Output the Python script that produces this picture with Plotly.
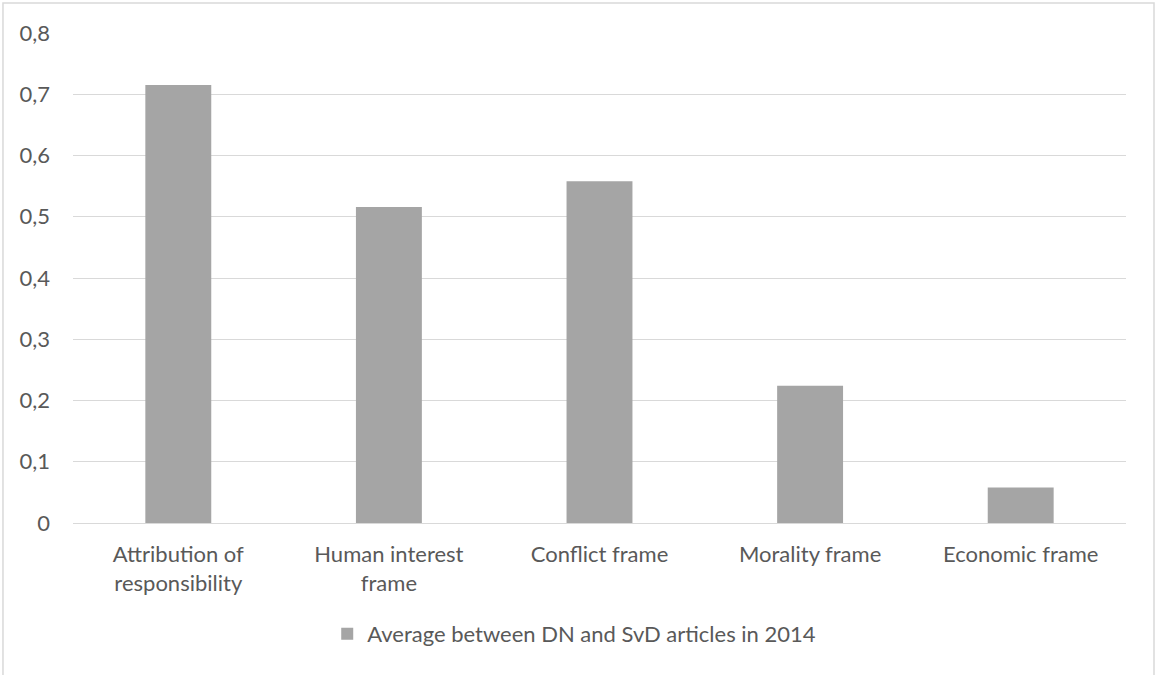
import plotly.graph_objects as go

categories = ["Attribution of<br>responsibility", "Human interest<br>frame", "Conflict frame",
              "Morality frame", "Economic frame"]
values = [0.715, 0.516, 0.558, 0.224, 0.058]
series_name = "Average between DN and SvD articles in 2014"
y_ticks = [0, 0.1, 0.2, 0.3, 0.4, 0.5, 0.6, 0.7, 0.8]

FONT = "Lato"
TXT = "#595959"
FS = 22

fig = go.Figure()
fig.add_trace(go.Bar(x=categories, y=values, name=series_name,
                     marker=dict(color="#a5a5a5", line=dict(width=0)),
                     showlegend=True))

fig.update_layout(
    width=1157, height=675,
    margin=dict(l=73, r=31, t=33, b=152),
    paper_bgcolor="white", plot_bgcolor="white",
    separators=", ",
    bargap=0.687,
    font=dict(family=FONT, size=FS, color=TXT),
    showlegend=True,
    legend=dict(orientation="h", x=0.476, xanchor="center", y=-0.2265, yanchor="middle",
                font=dict(family=FONT, size=FS, color=TXT), itemwidth=30),
    xaxis=dict(showgrid=False, showline=False, zeroline=False, ticks="",
               tickfont=dict(family=FONT, size=FS, color=TXT), ticklabelstandoff=16),
    yaxis=dict(range=[0, 0.8], tickvals=y_ticks, showgrid=True, gridcolor="#d9d9d9", gridwidth=1,
               zeroline=True, zerolinecolor="#d9d9d9", zerolinewidth=1, showline=False, ticks="",
               tickfont=dict(family=FONT, size=FS, color=TXT), ticklabelstandoff=22),
    shapes=[dict(type="rect", xref="paper", yref="paper", x0=-0.0665, x1=1.0266, y0=-0.5, y1=1.0612,
                 line=dict(color="#d9d9d9", width=1.5), fillcolor="rgba(0,0,0,0)", layer="below")],
)

fig.write_html("out.html")
